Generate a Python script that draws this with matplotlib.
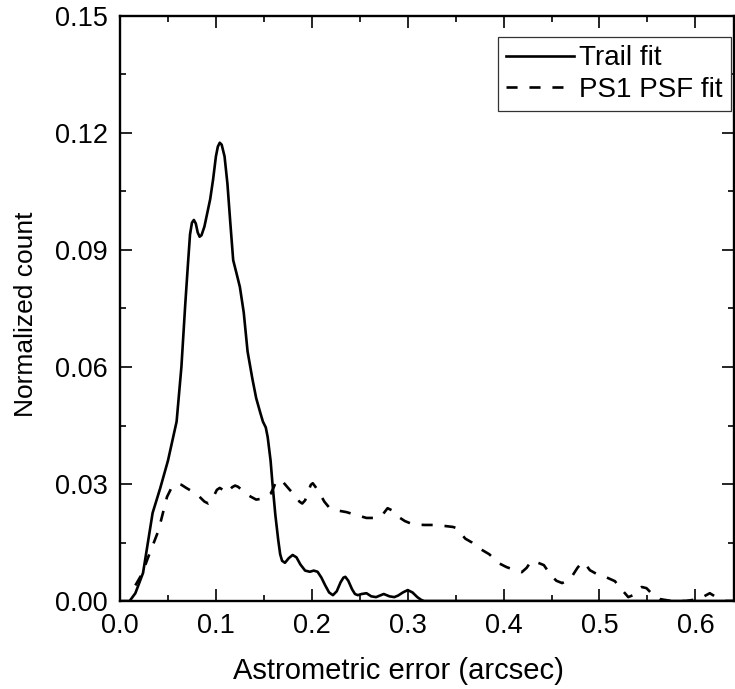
import matplotlib
matplotlib.use("Agg")
import matplotlib.pyplot as plt
from matplotlib.ticker import MultipleLocator

plt.rcParams['font.family'] = ['Liberation Sans', 'DejaVu Sans']

# Trail fit (solid)
trail_x = [0.0, 0.010, 0.016, 0.024, 0.034, 0.042, 0.050, 0.059, 0.064, 0.068,
           0.071, 0.073, 0.075, 0.077, 0.079, 0.081, 0.083, 0.085, 0.088, 0.091,
           0.094, 0.097, 0.100, 0.102, 0.104, 0.106, 0.109, 0.112, 0.115,
           0.118, 0.122, 0.125, 0.129, 0.133, 0.138, 0.142, 0.146, 0.149, 0.152,
           0.154, 0.157, 0.159, 0.162, 0.165, 0.167, 0.169, 0.172,
           0.176, 0.180, 0.184, 0.188, 0.193, 0.198, 0.202, 0.206, 0.210, 0.214,
           0.218, 0.222, 0.226, 0.230, 0.233, 0.235, 0.238, 0.242,
           0.245, 0.248, 0.252, 0.257, 0.262, 0.267, 0.271, 0.275, 0.281, 0.286,
           0.290, 0.295, 0.300, 0.305, 0.310, 0.314, 0.317, 0.40, 0.50, 0.64]
trail_y = [0.0, 0.0, 0.002, 0.0072, 0.0226, 0.029, 0.036, 0.046, 0.060, 0.076,
           0.087, 0.094, 0.0970, 0.0977, 0.0968, 0.0945, 0.0934, 0.0938, 0.0960, 0.0995,
           0.103, 0.108, 0.114, 0.1165, 0.1175, 0.1170, 0.114, 0.107, 0.097,
           0.0874, 0.0835, 0.0805, 0.074, 0.064, 0.057, 0.052, 0.0485, 0.046, 0.0445,
           0.042, 0.036, 0.030, 0.022, 0.0156, 0.0120, 0.0103, 0.0098,
           0.0110, 0.0118, 0.0112, 0.0094, 0.0078, 0.0075, 0.0078, 0.0075, 0.0060, 0.0040,
           0.0022, 0.0015, 0.0025, 0.0048, 0.0060, 0.0062, 0.0052, 0.0030,
           0.0018, 0.0015, 0.0018, 0.0020, 0.0012, 0.0010, 0.0014, 0.0018, 0.0012, 0.0010,
           0.0014, 0.0022, 0.0028, 0.0022, 0.0010, 0.0003, 0.0, 0.0, 0.0, 0.0]

# PS1 PSF fit (dashed)
psf_x = [0.016, 0.023, 0.029, 0.040, 0.049, 0.054, 0.059, 0.064, 0.069, 0.076,
         0.083, 0.088, 0.092, 0.095, 0.098, 0.101, 0.104, 0.108, 0.111, 0.114,
         0.117, 0.120, 0.123, 0.127, 0.130, 0.136, 0.142, 0.147, 0.152, 0.157,
         0.160, 0.163, 0.167, 0.170, 0.177, 0.184, 0.187, 0.190, 0.193, 0.196,
         0.199, 0.201, 0.204, 0.208, 0.213, 0.218, 0.227, 0.236,
         0.247, 0.257, 0.267, 0.274, 0.279, 0.284, 0.289, 0.297, 0.305, 0.317, 0.329,
         0.340, 0.347, 0.351, 0.355, 0.360, 0.367, 0.374, 0.385, 0.395, 0.403, 0.411,
         0.419, 0.424, 0.429, 0.436, 0.442, 0.449, 0.455, 0.461, 0.466, 0.471, 0.477,
         0.482, 0.486, 0.490, 0.498, 0.506, 0.516, 0.523, 0.530, 0.535, 0.539, 0.544,
         0.549, 0.556, 0.563, 0.575, 0.590, 0.603, 0.609, 0.615, 0.623, 0.631, 0.64]
psf_y = [0.004, 0.007, 0.011, 0.018, 0.0267, 0.0292, 0.0300, 0.0298, 0.0290, 0.0280,
         0.0267, 0.0255, 0.0250, 0.0255, 0.0270, 0.0285, 0.0290, 0.0284, 0.0277, 0.0284,
         0.0292, 0.0296, 0.0293, 0.0285, 0.0277, 0.0268, 0.0260, 0.0262, 0.0267, 0.0275,
         0.0290, 0.0308, 0.0310, 0.0305, 0.0285, 0.0267, 0.0255, 0.0250, 0.0258, 0.0280,
         0.0298, 0.0302, 0.0292, 0.0277, 0.0255, 0.0240, 0.0232, 0.0228,
         0.0220, 0.0213, 0.0213, 0.0222, 0.0238, 0.0232, 0.0218, 0.0205, 0.0197, 0.0195, 0.0195,
         0.0192, 0.0190, 0.0187, 0.0175, 0.0160, 0.0150, 0.0136, 0.0120, 0.0097, 0.0087, 0.0080,
         0.0074, 0.0085, 0.0103, 0.0098, 0.0092, 0.0067, 0.0052, 0.0046, 0.0052, 0.0062, 0.0085,
         0.0100, 0.0092, 0.0079, 0.0068, 0.0062, 0.0051, 0.0030, 0.0010, 0.0015, 0.0028, 0.0036,
         0.0033, 0.0015, 0.0005, 0.0, 0.0, 0.0005, 0.0012, 0.0020, 0.0008, 0.0, 0.0]

fig = plt.figure(figsize=(7.35, 6.89), dpi=100)
ax = fig.add_axes([0.1633, 0.1277, 0.8350, 0.8491])

ax.plot(trail_x, trail_y, color='black', lw=1.9, label='Trail fit')
ax.plot(psf_x, psf_y, color='black', lw=1.9, dashes=(4.2, 4.5), label='PS1 PSF fit')

ax.set_xlim(0, 0.64)
ax.set_ylim(0, 0.15)
ax.xaxis.set_major_locator(MultipleLocator(0.1))
ax.xaxis.set_minor_locator(MultipleLocator(0.05))
ax.yaxis.set_major_locator(MultipleLocator(0.03))
ax.yaxis.set_minor_locator(MultipleLocator(0.015))
ax.xaxis.set_major_formatter(plt.FormatStrFormatter('%.1f'))
ax.yaxis.set_major_formatter(plt.FormatStrFormatter('%.2f'))

ax.tick_params(which='both', direction='in', top=True, right=True,
               labelsize=19.5, width=1.2, colors='black')
ax.tick_params(which='major', length=8.5, pad=8.6)
ax.tick_params(which='minor', length=4.5)
for s in ax.spines.values():
    s.set_linewidth(1.7)

ax.set_xlabel('Astrometric error (arcsec)', fontsize=21)
ax.set_ylabel('Normalized count', fontsize=19)
# origin-style label placement (x label sits left of centre)
ax.xaxis.set_label_coords(0.4535, -0.0957)
ax.yaxis.set_label_coords(-0.133, 0.49)

leg = ax.legend(loc='upper right', bbox_to_anchor=(0.9951, 0.964),
                borderaxespad=0, fontsize=20, frameon=True, fancybox=False,
                edgecolor='#333333', framealpha=1, handlelength=2.45,
                handletextpad=0.18, borderpad=0.3, labelspacing=0.2)
leg.get_frame().set_linewidth(0.9)

fig.savefig('out.png', dpi=100)
